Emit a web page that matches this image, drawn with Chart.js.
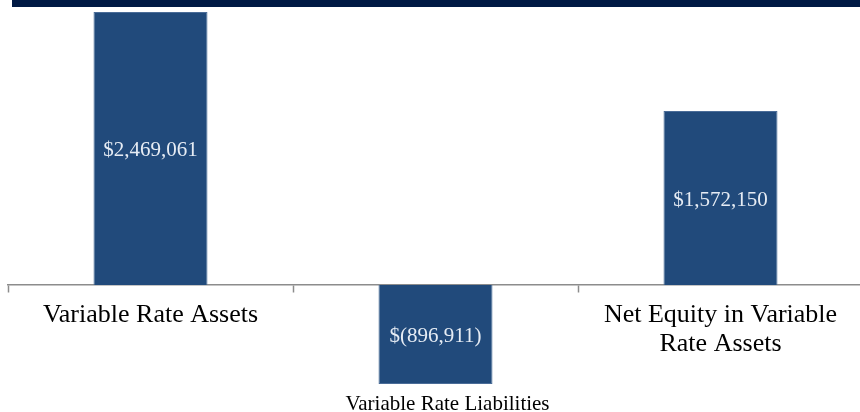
<!DOCTYPE html>
<html>
<head>
<meta charset="UTF-8"/>
<script src="https://cdn.jsdelivr.net/npm/chart.js@4.4.0/dist/chart.umd.min.js"></script>
<style>
  body { margin: 0; overflow: hidden; background: #fff; }
  #band { position: absolute; left: 12px; top: 0; width: 848px; height: 7px; background: #001944; }
  #wrap { position: absolute; left: 0; top: 0; width: 866px; height: 412px; }
</style>
</head>
<body>
<div id="wrap"><canvas id="chart" width="866" height="412"></canvas></div>
<div id="band"></div>
<script>
const categories = [
  ['Variable Rate Assets'],
  ['Variable Rate Liabilities'],
  ['Net Equity in Variable', 'Rate Assets']
];
const values = [2469061, -896911, 1572150];

function money(v) {
  const s = Math.abs(v).toLocaleString('en-US');
  return v < 0 ? '$(' + s + ')' : '$' + s;
}

// category labels + value labels drawn from the scales
const labelPlugin = {
  id: 'labels',
  afterDatasetsDraw(chart) {
    const ctx = chart.ctx;
    const xs = chart.scales.x, ys = chart.scales.y;
    const zero = ys.getPixelForValue(0);
    const bars = chart.getDatasetMeta(0).data;
    ctx.save();
    ctx.textAlign = 'center';
    ctx.textBaseline = 'middle';
    values.forEach((v, i) => {
      const bar = bars[i];
      ctx.fillStyle = '#e6ecf4';
      ctx.font = '21px "Liberation Serif", serif';
      ctx.fillText(money(v), bar.x, (bar.y + bar.base) / 2 + 2);

      const x = xs.getPixelForValue(i);
      ctx.fillStyle = '#000';
      if (v >= 0) {
        ctx.font = '26px "Liberation Serif", serif';
        categories[i].forEach((line, j) => ctx.fillText(line, x, zero + 30 + j * 29));
      } else {
        // label sits under the negative bar, a bit right of centre like the original
        ctx.font = '21px "Liberation Serif", serif';
        const bottom = ys.getPixelForValue(v);
        categories[i].forEach((line, j) => ctx.fillText(line, x + 12, bottom + 20 + j * 22));
      }
    });
    ctx.restore();
  }
};

new Chart(document.getElementById('chart').getContext('2d'), {
  type: 'bar',
  data: {
    labels: categories.map(c => c.join(' ')),
    datasets: [{
      data: values,
      backgroundColor: '#214a7b',
      borderColor: '#4a6c98',
      borderWidth: 1,
      categoryPercentage: 1,
      barPercentage: 0.4
    }]
  },
  options: {
    responsive: false,
    animation: false,
    layout: { padding: { top: 12, bottom: 28, left: 8, right: 3 } },
    plugins: { legend: { display: false }, tooltip: { enabled: false } },
    scales: {
      x: {
        position: { y: 0 },
        ticks: { display: false },
        grid: { drawOnChartArea: false, drawTicks: true, tickLength: 7, tickColor: '#8c8c8c', tickWidth: 1.5 },
        border: { display: true, color: '#8c8c8c', width: 1.5 }
      },
      y: {
        display: false,
        min: -896911,
        max: 2469061
      }
    }
  },
  plugins: [labelPlugin]
});
</script>
</body>
</html>
